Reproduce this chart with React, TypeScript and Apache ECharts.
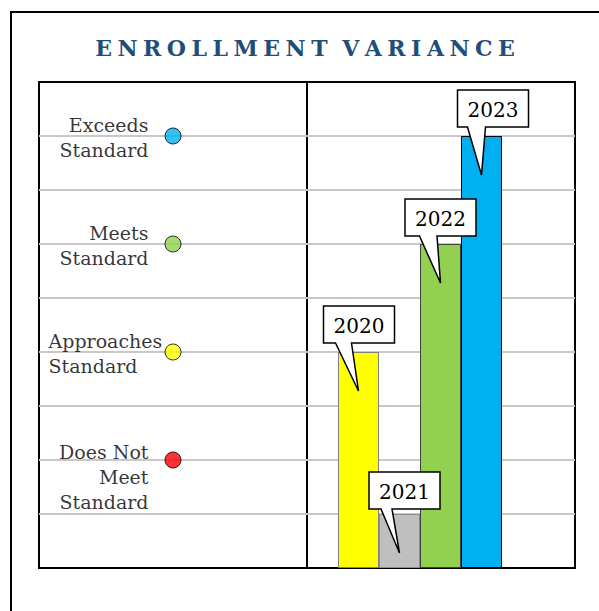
import React, { useEffect, useRef } from "react";
import * as echarts from "echarts";

// ---- data ----
const years = ["2020", "2021", "2022", "2023"];
const enrollment = [4, 1, 6, 8];

const levelNames = ["Exceeds\nStandard", "Meets\nStandard", "Approaches\nStandard", "Does Not\nMeet\nStandard"];
const levelValues = [8, 6, 4, 2];

const titleText = "ENROLLMENT VARIANCE";

// ---- styles ----
const barColors = ["#ffff00", "#bfbfbf", "#92d050", "#00b0f0"];
const barBorders = ["#7f7f7f", "#8c8c8c", "#3f3f3f", "#000000"];
const dotColors = ["#00b0f0", "#92d050", "#ffff00", "#ff0000"];
// callout layout: box center dx, box top dy, tail base from box left
const calloutLayout = [
  { cx: 0.5, dy: -46, a: 12, b: 28 },
  { cx: 5, dy: -42, a: 12, b: 23 },
  { cx: 0, dy: -45, a: 14.5, b: 32 },
  { cx: 11.5, dy: -46, a: 10, b: 28 },
];

const SERIF = "DejaVu Serif";

function spaced(s: string) {
  return s
    .split(" ")
    .map((w) => w.split("").join("\u2005"))
    .join("\u2005\u2005\u2006");
}

export default function App() {
  const ref = useRef<HTMLDivElement>(null);
  useEffect(() => {
    document.body.style.margin = "0";
    const chart = echarts.init(ref.current!, null, { renderer: "svg" });
    const yBase = (gridIndex: number, showSplit: boolean) => ({
      type: "value",
      gridIndex,
      min: 0,
      max: 9,
      interval: 1,
      axisLabel: { show: false },
      axisTick: { show: false },
      axisLine: { show: false },
      splitLine: {
        show: showSplit,
        showMinLine: false,
        showMaxLine: false,
        lineStyle: { color: "#c8c8c8", width: 2 },
      },
    });
    const hiddenCat = (gridIndex: number, data: string[]) => ({
      type: "category",
      gridIndex,
      data,
      axisLabel: { show: false },
      axisTick: { show: false },
      axisLine: { show: false },
      splitLine: { show: false },
    });
    chart.setOption({
      animation: false,
      backgroundColor: "#ffffff",
      graphic: [
        {
          type: "rect",
          shape: { x: 11, y: 12, width: 800, height: 800 },
          style: { fill: "none", stroke: "#000", lineWidth: 2 },
          z: 100,
        },
        {
          type: "text",
          x: 305,
          y: 37,
          style: {
            text: spaced(titleText),
            fontFamily: SERIF,
            fontWeight: "bold",
            fontSize: 22,
            fill: "#1f4e79",
            textAlign: "center",
            textVerticalAlign: "top",
          },
        },
      ],
      grid: [
        { left: 39, top: 82, width: 268, height: 486, show: true, borderColor: "#000", borderWidth: 2, backgroundColor: "transparent" },
        { left: 307, top: 82, width: 268, height: 486, show: true, borderColor: "#000", borderWidth: 2, backgroundColor: "transparent" },
        { left: 338, top: 82, width: 164, height: 486 },
      ],
      xAxis: [hiddenCat(0, [""]), hiddenCat(1, [""]), hiddenCat(2, years)],
      yAxis: [yBase(0, true), yBase(1, true), yBase(2, false)],
      series: [
        {
          type: "scatter",
          xAxisIndex: 0,
          yAxisIndex: 0,
          symbolSize: 16,
          z: 5,
          data: levelValues.map((v, i) => ({
            value: ["", v],
            name: levelNames[i],
            itemStyle: { color: dotColors[i], borderColor: "#000", borderWidth: 1 },
            label:
              i === 2
                ? { align: "left", offset: [-100, -23.5] }
                : i === 3
                ? { offset: [0, -21] }
                : {},
          })),
          label: {
            show: true,
            position: "left",
            distance: 16,
            formatter: (p: any) => p.name,
            align: "right",
            verticalAlign: "top",
            offset: [0, -23.5],
            fontFamily: SERIF,
            fontSize: 19,
            lineHeight: 25,
            color: "#000",
          },
        },
        {
          type: "bar",
          xAxisIndex: 2,
          yAxisIndex: 2,
          barWidth: "100%",
          z: 3,
          data: enrollment.map((v, i) => ({
            value: v,
            itemStyle: { color: barColors[i], borderColor: barBorders[i], borderWidth: 1 },
          })),
        },
        {
          type: "custom",
          xAxisIndex: 2,
          yAxisIndex: 2,
          z: 10,
          data: enrollment.map((v, i) => [i, v]),
          renderItem: (params: any, api: any) => {
            const i = params.dataIndex;
            const p = api.coord([api.value(0), api.value(1)]);
            const lay = calloutLayout[i];
            const w = 71;
            const h = 37;
            const L = p[0] + lay.cx - w / 2;
            const R = L + w;
            const T = p[1] + lay.dy;
            const B = T + h;
            const tip = [p[0], p[1] + 39];
            return {
              type: "group",
              children: [
                {
                  type: "polygon",
                  shape: {
                    points: [
                      [L, T],
                      [R, T],
                      [R, B],
                      [L + lay.b, B],
                      tip,
                      [L + lay.a, B],
                      [L, B],
                    ],
                  },
                  style: { fill: "#fff", stroke: "#000", lineWidth: 1.5 },
                },
                {
                  type: "text",
                  x: (L + R) / 2,
                  y: (T + B) / 2 + 1,
                  style: {
                    text: years[i],
                    fontFamily: SERIF,
                    fontSize: 20,
                    fill: "#000",
                    textAlign: "center",
                    textVerticalAlign: "middle",
                  },
                },
              ],
            };
          },
        },
      ],
    });
    return () => chart.dispose();
  }, []);
  return <div ref={ref} style={{ width: 599, height: 611 }} />;
}
